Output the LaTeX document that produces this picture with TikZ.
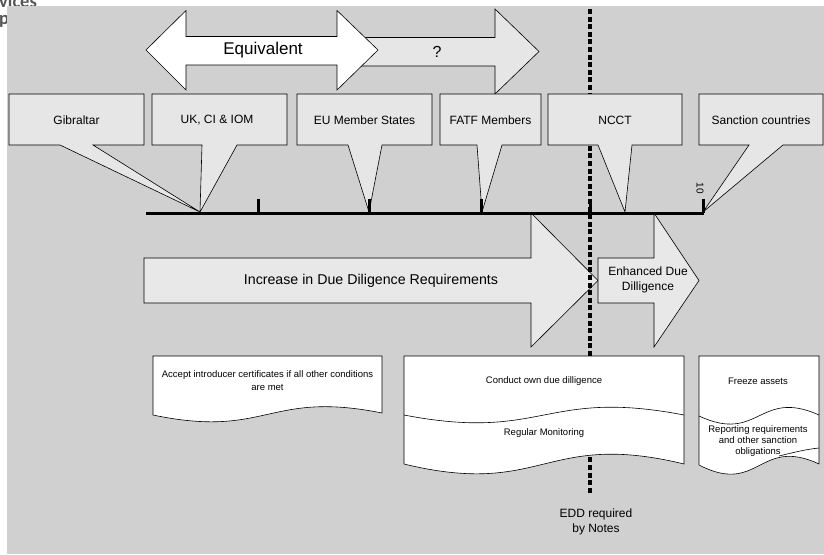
\documentclass[tikz,border=0pt]{standalone}
\usepackage{fontspec}
\setmainfont{Liberation Sans}
\newfontfamily\carl{Carlito}
\definecolor{bg}{HTML}{D0D0D0}
\definecolor{boxfill}{HTML}{E6E6E6}
\definecolor{arrfill}{HTML}{E8E8E8}
\definecolor{fragc}{HTML}{555555}
\begin{document}
\begin{tikzpicture}[x=1pt,y=-1pt,line join=miter,
  outl/.style={draw=black,line width=0.6pt},
  callout/.style={outl,fill=boxfill},
  bigarrow/.style={outl,fill=arrfill},
  docshape/.style={outl,fill=white},
  lbl/.style={font=\fontsize{12}{15}\selectfont,inner sep=0pt,align=center},
  doctext/.style={font=\fontsize{9.5}{12.5}\selectfont,inner sep=0pt,align=center},
  frag/.style={font=\carl\bfseries\fontsize{18.5}{19}\selectfont,text=fragc,inner sep=0pt,anchor=base west},
  tickline/.style={line width=3pt},
  dotline/.style={line width=3.2pt,dash pattern=on 5pt off 2.6pt}]
\useasboundingbox (0,0) rectangle (824,554);
% cut-off fragments of text behind the grey panel
\node[frag] (frag1) at (-1,7) {vices};
\node[frag] (frag2) at (-1,24) {p};
\fill[bg] (7,6) rectangle (824,554);

% top double arrows
\filldraw[outl,fill=boxfill] (345,37.5) -- (495,37.5) -- (495,9) -- (539,51.5) -- (495,94) -- (495,66) -- (345,66) -- cycle;
\node[font=\fontsize{16}{18}\selectfont,inner sep=0pt] (qm) at (437,52) {?};
\filldraw[outl,fill=white] (146,50) -- (186,10.5) -- (186,36.5) -- (337,36.5) -- (337,10.5) -- (378,50) -- (337,90) -- (337,65) -- (186,65) -- (186,90) -- cycle;
\node[font=\fontsize{17}{20}\selectfont,inner sep=0pt] (equiv) at (263,50) {Equivalent};

% big arrows
\filldraw[bigarrow] (144,258) -- (531,258) -- (531,213) -- (598,280.5) -- (531,347) -- (531,303) -- (144,303) -- cycle;
\filldraw[bigarrow] (598,258) -- (654,258) -- (654,213) -- (699,280.5) -- (654,347) -- (654,303) -- (598,303) -- cycle;
\node[font=\fontsize{14.2}{17}\selectfont,inner sep=0pt] (incr) at (371,281) {Increase in Due Diligence Requirements};
\node[lbl] (edd) at (648,280) {Enhanced Due\\Dilligence};

% dotted vertical line
\coordinate (dtop) at (590,9);
\coordinate (dbot) at (590,493);
\draw[dotline] (dtop) -- (dbot);

% callouts
\filldraw[callout] (9,94) -- (144,94) -- (144,145) -- (93,145) -- (200,212) -- (60,145) -- (9,145) -- cycle;
\filldraw[callout] (152,94) -- (287,94) -- (287,145) -- (237,145) -- (200,212) -- (202,145) -- (152,145) -- cycle;
\filldraw[callout] (297,94) -- (432,94) -- (432,145) -- (382,145) -- (369,212) -- (348,145) -- (297,145) -- cycle;
\filldraw[callout] (440,94) -- (541,94) -- (541,145) -- (502,145) -- (482,212) -- (477,145) -- (440,145) -- cycle;
\filldraw[callout] (548,94) -- (682,94) -- (682,145) -- (632,145) -- (625,212) -- (598,145) -- (548,145) -- cycle;
\filldraw[callout] (699,94) -- (823,94) -- (823,145) -- (783,145) -- (703,212) -- (749,145) -- (699,145) -- cycle;
\node[lbl] (gib) at (76.5,120) {Gibraltar};
\node[lbl] (uk) at (217,120) {UK, CI \& IOM};
\node[lbl] (eu) at (364.5,120) {EU Member States};
\node[lbl] (fatf) at (490.5,120) {FATF Members};
\node[lbl] (ncct) at (615,120) {NCCT};
\node[lbl] (sanc) at (761,120) {Sanction countries};

% timeline
\coordinate (tl0) at (146,213);
\coordinate (tl1) at (704,213);
\draw[tickline] (tl0) -- (tl1);
\foreach \x/\n in {258/a,369/b,481/c,590/d,703/e}{
  \coordinate (tb\n) at (\x,213);
  \coordinate (tt\n) at (\x,199);
  \draw[tickline] (tb\n) -- (tt\n);
}
\node[font=\fontsize{10}{12}\selectfont,inner sep=0pt,rotate=-90] (ten) at (700,188) {10};

% documents
\filldraw[docshape] (153,356) -- (382,356) -- (382,413) .. controls (267.5,390) and (267.5,439) .. (153,415) -- cycle;
\node[doctext] (acc) at (267.5,380.5) {Accept introducer certificates if all other conditions\\are met};

\filldraw[docshape] (404,356) -- (684,356) -- (684,464) .. controls (544,430) and (544,498) .. (404,464) -- cycle;
\draw[outl] (404,415) .. controls (544,442) and (544,388) .. (684,415);
\node[doctext] (cond) at (544,381) {Conduct own due dilligence};
\node[doctext] (regm) at (544,433) {Regular Monitoring};

\filldraw[docshape] (699,356) -- (819,356) -- (819,464) .. controls (759,436) and (759,496) .. (699,465) -- cycle;
\draw[outl] (699,416) .. controls (759,444) and (759,388) .. (819,415);
\draw[outl] (779,456) .. controls (795,452) and (808,449) .. (819,448);
\node[doctext] (frz) at (758,381) {Freeze assets};
\node[doctext,font=\fontsize{9.5}{11.2}\selectfont] (rep) at (758,441) {Reporting requirements\\and other sanction\\obligations};

\node[lbl] (eddn) at (596,522) {EDD required\\by Notes};
\end{tikzpicture}
\end{document}
